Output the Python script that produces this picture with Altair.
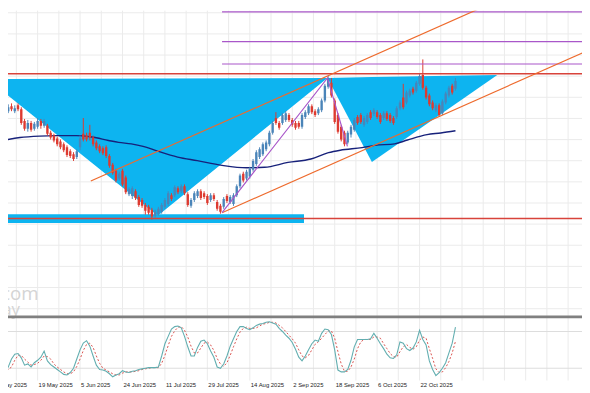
import altair as alt
import numpy as np
import pandas as pd

# ---------------- data ----------------
FIRST_BAR = 2
opens = [291, 297, 294, 299, 294, 300, 296, 284, 276, 282,
         276, 278, 284, 279, 279, 272, 269, 266, 263, 260,
         257, 253, 250, 247, 257, 271, 269, 272, 267, 262,
         258, 256, 257, 248, 239, 233, 225, 233, 226, 209,
         207, 212, 206, 203, 198, 196, 193, 187, 189, 191,
         196, 199, 208, 208, 215, 212, 217, 209, 197, 203,
         207, 212, 210, 207, 203, 208, 201, 197, 196, 207,
         201, 199, 208, 217, 230, 225, 227, 234, 240, 247,
         250, 255, 260, 272, 287, 282, 282, 285, 290, 285,
         282, 282, 278, 288, 292, 299, 294, 292, 295, 305,
         319, 323, 305, 290, 278, 272, 262, 270, 275, 288,
         290, 280, 283, 293, 291, 293, 290, 287, 292, 290,
         287, 288, 297, 308, 303, 310, 317, 315, 322, 331,
         318, 310, 303, 295, 300, 292, 303, 310, 320, 317]
highs = [298, 300, 301, 302, 300, 302, 298, 286, 285, 284,
         283, 287, 286, 286, 281, 274, 271, 268, 265, 262,
         259, 255, 252, 255, 269, 287, 272, 280, 269, 264,
         260, 258, 259, 250, 241, 235, 232, 235, 228, 216,
         217, 214, 208, 205, 200, 198, 195, 193, 196, 200,
         205, 212, 210, 218, 217, 219, 219, 211, 205, 212,
         214, 214, 212, 209, 210, 210, 203, 199, 206, 209,
         208, 210, 219, 230, 232, 234, 237, 245, 254, 257,
         262, 264, 274, 284, 293, 284, 292, 294, 292, 287,
         284, 284, 292, 295, 301, 301, 296, 298, 307, 322,
         330, 328, 307, 292, 280, 274, 274, 280, 287, 290,
         292, 289, 292, 295, 297, 295, 292, 294, 294, 292,
         289, 299, 305, 322, 315, 317, 319, 325, 332, 347,
         320, 312, 305, 302, 302, 306, 314, 320, 322, 328]
lows = [289, 291, 292, 294, 292, 294, 280, 274, 273, 273,
        274, 276, 276, 277, 269, 265, 262, 258, 255, 252,
        247, 246, 243, 245, 254, 263, 263, 264, 258, 254,
        251, 249, 246, 236, 229, 221, 223, 217, 209, 207,
        204, 203, 196, 195, 188, 188, 183, 185, 187, 189,
        194, 197, 202, 206, 209, 210, 208, 196, 195, 201,
        205, 203, 204, 198, 201, 202, 192, 189, 194, 200,
        199, 197, 206, 215, 221, 223, 225, 232, 238, 245,
        248, 253, 258, 270, 280, 275, 280, 283, 283, 278,
        275, 276, 276, 286, 290, 291, 288, 290, 293, 303,
        317, 308, 281, 271, 263, 258, 260, 267, 273, 280,
        281, 278, 281, 285, 289, 286, 281, 285, 284, 282,
        280, 286, 295, 296, 301, 308, 311, 313, 320, 316,
        306, 299, 295, 293, 288, 290, 301, 308, 311, 315]
closes = [295, 293, 298, 296, 297, 296, 282, 276, 282, 275,
          281, 284, 279, 284, 271, 267, 264, 260, 257, 254,
          249, 248, 245, 253, 266, 265, 265, 267, 260, 256,
          253, 251, 248, 238, 231, 223, 230, 219, 211, 214,
          215, 205, 198, 197, 192, 190, 186, 191, 194, 198,
          203, 210, 204, 216, 211, 217, 210, 198, 203, 210,
          212, 205, 206, 200, 208, 204, 194, 191, 204, 202,
          206, 208, 217, 228, 223, 232, 235, 243, 252, 255,
          260, 262, 272, 282, 282, 277, 290, 292, 285, 280,
          277, 278, 290, 293, 299, 293, 290, 296, 305, 320,
          328, 310, 283, 273, 265, 260, 272, 278, 285, 282,
          283, 287, 290, 287, 295, 288, 283, 292, 286, 284,
          282, 297, 303, 298, 313, 315, 313, 323, 330, 318,
          308, 301, 297, 300, 290, 304, 312, 318, 313, 325]

ma_bars = [1.5, 7.6, 13.6, 18.7, 24.8, 29.6, 34.7, 37.8, 41.7, 45.3, 49.8, 55.9, 61.9,
           69.5, 77, 82.5, 89.7, 96.7, 102.1, 105.7, 112.4, 116.3, 122.4, 126.3, 132.3,
           136.5, 141]
ma_vals = [263.5, 267, 268.5, 269, 269, 267.5, 264, 262, 260.5, 258, 253, 247, 243.3,
           238.5, 236, 236.5, 241.5, 245, 251.5, 254, 256.7, 259, 260.5, 264.5, 270,
           271.7, 274]

stoch_k = [25, 15, 22, 35, 43, 44, 37, 25, 27, 22,
           29, 33, 38, 48, 32, 26, 22, 18, 14, 10,
           9, 13, 20, 35, 50, 61, 65, 56, 40, 25,
           18, 17, 15, 11, 6, 9, 11, 16, 14, 13,
           15, 16, 18, 19, 20, 21, 21, 21, 22, 40,
           60, 72, 84, 88, 89, 86, 72, 55, 40, 40,
           54, 64, 66, 60, 48, 38, 22, 20, 27, 40,
           56, 68, 80, 88, 88, 85, 83, 86, 90, 92,
           93, 95, 96, 94, 92, 85, 80, 74, 69, 62,
           51, 38, 32, 40, 50, 60, 66, 64, 77, 84,
           83, 75, 50, 17, 14, 14, 18, 33, 55, 67,
           67, 67, 67, 68, 77, 69, 60, 52, 43, 37,
           36, 42, 63, 61, 52, 49, 53, 63, 82, 67,
           58, 32, 18, 8, 13, 20, 29, 45, 61, 87]
stoch_d = [30, 24, 18, 22, 33, 41, 41, 35, 30, 25,
           26, 28, 33, 40, 39, 35, 27, 22, 18, 14,
           11, 11, 14, 23, 35, 49, 59, 61, 54, 40,
           28, 20, 17, 14, 11, 9, 9, 12, 14, 14,
           14, 15, 16, 18, 19, 20, 21, 21, 21, 28,
           41, 57, 72, 81, 87, 88, 82, 71, 56, 45,
           45, 53, 61, 63, 58, 49, 36, 27, 23, 29,
           41, 55, 68, 79, 85, 87, 85, 85, 86, 89,
           92, 93, 95, 95, 94, 90, 86, 80, 74, 68,
           61, 50, 40, 37, 41, 50, 59, 63, 69, 75,
           81, 81, 69, 47, 27, 15, 15, 22, 35, 52,
           63, 67, 67, 67, 71, 71, 69, 60, 52, 44,
           39, 38, 47, 55, 59, 54, 51, 55, 66, 71,
           69, 52, 36, 19, 13, 14, 21, 31, 45, 64]

date_labels = ["2 May 2025", "19 May 2025", "5 Jun 2025", "24 Jun 2025", "11 Jul 2025",
               "29 Jul 2025", "14 Aug 2025", "2 Sep 2025", "18 Sep 2025", "6 Oct 2025",
               "22 Oct 2025"]
label_step = 13

# drawn objects (bar index, price)
v1_bar = [-2.4, 49.8, 101.8]
v1_low = [327, 187, 328]
v1_high = [327, 327.5, 328]
v2_bar = [101.8, 115.4, 153.8]
v2_low = [328, 242, 331]
v2_high = [328, 329, 331]

band_bar = [-3, 94.6]
band_price = [179.5, 188.5]

red_levels = [332.3, 184]
purple_levels = [395.7, 365.3, 342.3]
purple_start = 69.5

up_chan_bar = [29.3, 152]
up_chan_price = [222.5, 404.5]
lo_chan_bar = [69.5, 182]
lo_chan_price = [190, 356.8]

zig_bar = [69.5, 101.8, 107.9]
zig_price = [190, 328, 258]

watermark = ["com", "ay"]

# ---------------- layout ----------------
W = 582
H = 375
MAIN_PX = [310, 0]      # price pane, pixels from top of plot
OSC_PX = [375, 310]     # oscillator pane
X_DOM = [3.93, 179.76]
P_DOM = [83.8, 396.97]
O_DOM = [0, 104.67]
GRID = "#ebebeb"
BLUE_FILL = "#0db4f0"
UP, DOWN = "#4a84b8", "#dd3a30"
ORANGE = "#ee6a2c"
PURPLE = "#a957c9"
RED = "#d8433b"

xs = alt.Scale(domain=X_DOM, nice=False, zero=False, padding=0)
ys = alt.Scale(domain=P_DOM, range=MAIN_PX, nice=False, zero=False, padding=0)
os_ = alt.Scale(domain=O_DOM, range=OSC_PX, nice=False, zero=False, padding=0)

bars = list(range(FIRST_BAR, FIRST_BAR + len(opens)))
candles = pd.DataFrame({"b": bars, "open": opens, "high": highs, "low": lows, "close": closes})
candles["dir"] = np.where(candles["close"] >= candles["open"], "up", "down")

grid_x = pd.DataFrame({"gx": np.arange(6.5, 179, 6.5)})
grid_y = pd.DataFrame({"gy": np.arange(91.7, 397, 21.65)})


def X(f):
    return alt.X(f, type="quantitative", scale=xs, axis=None)


def Y(f):
    return alt.Y(f, type="quantitative", scale=ys, axis=None)


def OY(f):
    return alt.Y(f, type="quantitative", scale=os_, axis=None)


vgrid = alt.Chart(grid_x).mark_rule(color=GRID, strokeWidth=1).encode(x=X("gx"))
hgrid = alt.Chart(grid_y).mark_rule(color=GRID, strokeWidth=1).encode(y=Y("gy"))


def tri(bs, lo, hi):
    return alt.Chart(pd.DataFrame({"b": bs, "lo": lo, "hi": hi})).mark_area(
        color=BLUE_FILL, opacity=1, interpolate="linear", line=False, clip=True
    ).encode(x=X("b"), y=Y("lo"), y2=alt.Y2("hi"))


tri1 = tri(v1_bar, v1_low, v1_high)
tri2 = tri(v2_bar, v2_low, v2_high)

band = alt.Chart(pd.DataFrame({"b0": [band_bar[0]], "b1": [band_bar[1]],
                               "p0": [band_price[0]], "p1": [band_price[1]]})).mark_rect(
    color=BLUE_FILL, clip=True).encode(x=X("b0"), x2="b1", y=Y("p0"), y2="p1")

ma = alt.Chart(pd.DataFrame({"b": ma_bars, "v": ma_vals})).mark_line(
    color="#17217a", strokeWidth=1.4, interpolate="monotone", clip=True
).encode(x=X("b"), y=Y("v"))

cscale = alt.Scale(domain=["up", "down"], range=[UP, DOWN])
wick = alt.Chart(candles).mark_rule(strokeWidth=1, clip=True).encode(
    x=X("b"), y=Y("low"), y2="high", color=alt.Color("dir:N", scale=cscale, legend=None))
body = alt.Chart(candles).mark_bar(size=2.4, clip=True).encode(
    x=X("b"), y=Y("open"), y2="close", color=alt.Color("dir:N", scale=cscale, legend=None))

red_h = alt.Chart(pd.DataFrame({"p": red_levels})).mark_rule(color=RED, strokeWidth=1.6).encode(y=Y("p"))
pur_h = alt.Chart(pd.DataFrame({"p": purple_levels, "b0": purple_start, "b1": X_DOM[1]})).mark_rule(
    color=PURPLE, strokeWidth=1.2).encode(x=X("b0"), x2="b1", y=Y("p"))


def seg(bs, ps, color):
    return alt.Chart(pd.DataFrame({"b": bs, "p": ps})).mark_line(
        color=color, strokeWidth=1.2, clip=True).encode(x=X("b"), y=Y("p"), order="b:Q")


chan_up = seg(up_chan_bar, up_chan_price, ORANGE)
chan_lo = seg(lo_chan_bar, lo_chan_price, ORANGE)
zig = seg(zig_bar, zig_price, PURPLE)

wm = alt.Chart(pd.DataFrame({"t": watermark, "b": [13.3, 7.6], "p": [100.5, 85.5],
                             "fs": [19, 17]})).mark_text(
    align="right", baseline="alphabetic", color="#d4d4d4", font="Open Sans", clip=True
).encode(x=X("b"), y=Y("p"), text="t:N",
         size=alt.Size("fs:Q", scale=None, legend=None))

# ---------------- oscillator ----------------
stoch = pd.DataFrame({"b": bars, "k": stoch_k, "d": stoch_d})
tick_vals = [label_step * i for i in range(1, len(date_labels))]
labels_df = pd.DataFrame({"b": [label_step * i for i in range(len(date_labels))],
                          "t": date_labels, "v": -8.2})

ohgrid = alt.Chart(pd.DataFrame({"lv": [20, 80]})).mark_rule(color="#dcdcdc", strokeWidth=1).encode(y=OY("lv"))
dline = alt.Chart(stoch).mark_line(color="#d9534f", strokeWidth=1, strokeDash=[2, 2], clip=True).encode(
    x=X("b"), y=OY("d"))
kline = alt.Chart(stoch).mark_line(color="#62aeb0", strokeWidth=1.1, clip=True).encode(
    x=alt.X("b:Q", scale=xs, axis=alt.Axis(
        values=tick_vals, labels=False, tickSize=3, tickColor="#555555",
        domain=True, domainColor="#555555", domainWidth=1, grid=False, title=None)),
    y=OY("k"))
sep = alt.Chart(pd.DataFrame({"lv": [103.86]})).mark_rule(color="#808080", strokeWidth=3).encode(y=OY("lv"))
date_text = alt.Chart(labels_df).mark_text(
    align="left", baseline="middle", dx=1, font="Liberation Sans", fontSize=6, color="#222222"
).encode(x=X("b"), y=OY("v"), text="t:N")

chart = alt.layer(
    vgrid, hgrid, wm, tri1, tri2, band, ma, wick, body, red_h, pur_h,
    chan_up, chan_lo, zig, ohgrid, dline, kline, sep, date_text
).resolve_scale(y="independent").properties(
    width=W, height=H, background="white",
    autosize=alt.AutoSizeParams(type="none"),
    padding={"left": 0, "top": 0, "right": 0, "bottom": 10},
).configure_view(stroke=None)

chart.save("out.html", embed_options={"renderer": "svg", "actions": False})
